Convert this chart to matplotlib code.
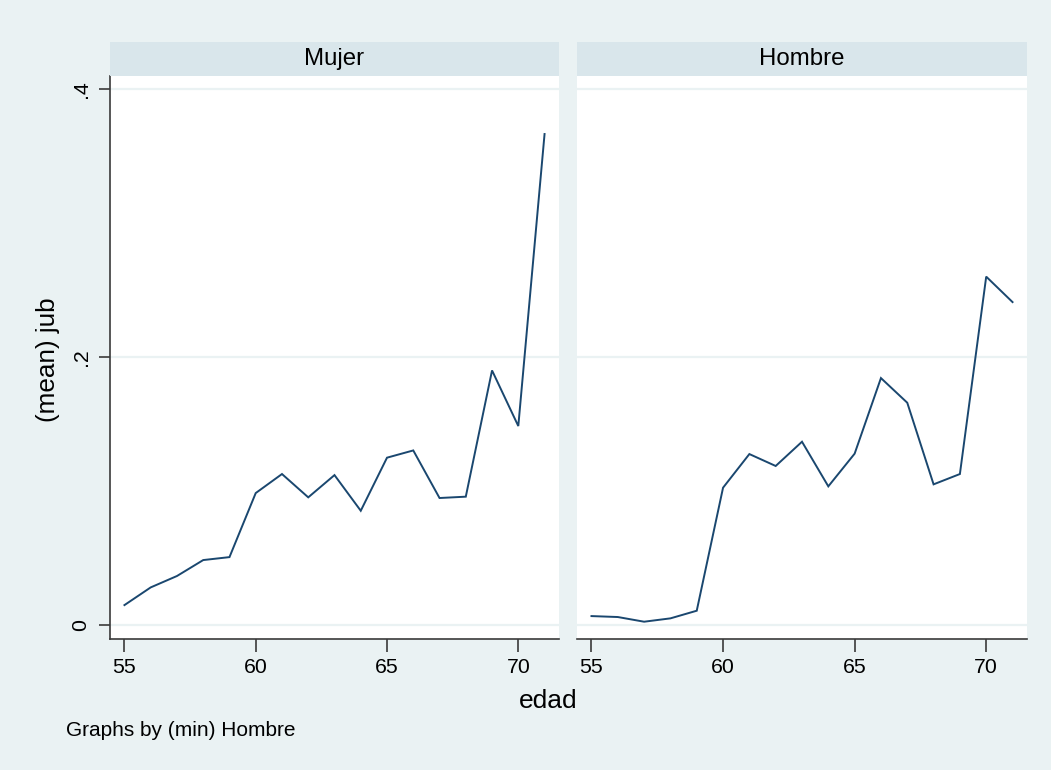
import matplotlib
matplotlib.use("Agg")
import matplotlib.pyplot as plt

plt.rcParams['font.family'] = ['Liberation Sans', 'DejaVu Sans']

# Mean of jub by age, one panel per group
edad = [55, 56, 57, 58, 59, 60, 61, 62, 63, 64, 65, 66, 67, 68, 69, 70, 71]
jub_mujer = [0.0149, 0.0281, 0.0366, 0.0485, 0.0507, 0.0985, 0.1127, 0.0953,
             0.1119, 0.0853, 0.1249, 0.1303, 0.0948, 0.0958, 0.1900, 0.1485, 0.3664]
jub_hombre = [0.0067, 0.0060, 0.0025, 0.0050, 0.0107, 0.1025, 0.1276, 0.1187,
              0.1368, 0.1035, 0.1279, 0.1843, 0.1659, 0.1050, 0.1127, 0.2600, 0.2410]
paneles = ["Mujer", "Hombre"]
x_ticks = [55, 60, 65, 70]
y_ticks = [0, 0.2, 0.4]
y_ticklabels = ["0", ".2", ".4"]

BG = "#EAF2F3"
STRIP = "#D9E6EB"
LINE = "#1A476F"
GRID = "#EAF2F3"
AXIS = "#3a3a3a"

W, H = 1051, 770
fig = plt.figure(figsize=(W / 100, H / 100), dpi=100, facecolor=BG)


def fx(px):
    return px / W


def fy(py):
    return 1 - py / H


plot_top, plot_bot = 76, 639
strip_top = 42
lefts = [(110, 559), (577, 1027)]
series = [jub_mujer, jub_hombre]

for i, ((x0, x1), nombre, vals) in enumerate(zip(lefts, paneles, series)):
    ax = fig.add_axes([fx(x0), fy(plot_bot), fx(x1 - x0), (plot_bot - plot_top) / H])
    ax.set_facecolor("white")
    ax.plot(edad, vals, color=LINE, lw=1.4, solid_joinstyle="miter", zorder=3)
    ax.set_xlim(54.45, 71.55)
    ax.set_ylim(-0.0104, 0.4097)
    for yv in y_ticks:
        ax.axhline(yv, color=GRID, lw=1.6, zorder=1)
    for s in ["top", "right"]:
        ax.spines[s].set_visible(False)
    ax.spines["bottom"].set_color(AXIS)
    ax.spines["bottom"].set_linewidth(1.2)
    ax.set_xticks(x_ticks)
    ax.set_xticklabels([str(t) for t in x_ticks])
    ax.tick_params(axis="x", length=9, width=1.2, color=AXIS, labelsize=15.3, pad=5)
    if i == 0:
        ax.spines["left"].set_color(AXIS)
        ax.spines["left"].set_linewidth(1.2)
        ax.set_yticks(y_ticks)
        ax.set_yticklabels(y_ticklabels, rotation=90, va="center")
        ax.tick_params(axis="y", length=8, width=1.2, color=AXIS, labelsize=15.3, pad=6)
    else:
        ax.spines["left"].set_visible(False)
        ax.set_yticks([])

    sax = fig.add_axes([fx(x0), fy(plot_top), fx(x1 - x0), (plot_top - strip_top) / H])
    sax.set_facecolor(STRIP)
    sax.set_xticks([])
    sax.set_yticks([])
    for s in sax.spines.values():
        s.set_visible(False)
    sax.text(0.5, 0.5, nombre, ha="center", va="center", fontsize=17.3,
             transform=sax.transAxes)

fig.text(fx(48), fy(360), "(mean) jub", rotation=90, ha="center", va="center", fontsize=18.8)
fig.text(fx(548), fy(701), "edad", ha="center", va="center", fontsize=19)
fig.text(fx(66), fy(731), "Graphs by (min) Hombre", ha="left", va="center", fontsize=15)

fig.savefig("out.png", dpi=100, facecolor=BG)
